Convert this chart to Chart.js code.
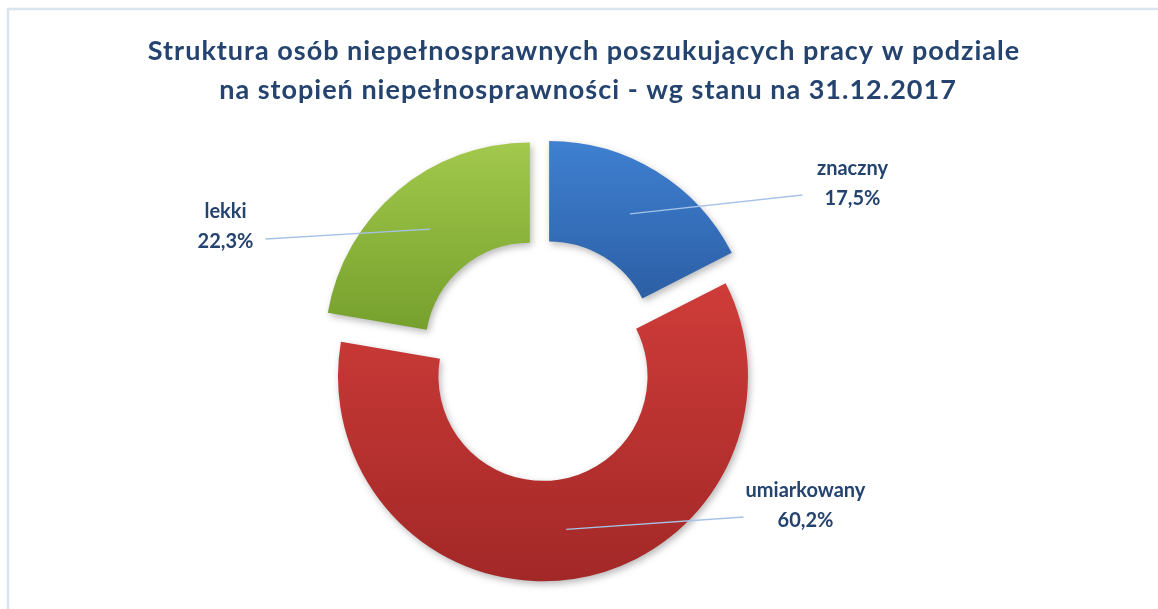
<!DOCTYPE html>
<html>
<head>
<meta charset="utf-8">
<script src="https://cdn.jsdelivr.net/npm/chart.js@4.4.0/dist/chart.umd.min.js"></script>
<style>
  html, body { margin: 0; padding: 0; background: #fff; overflow: hidden; }
  #wrap { width: 1158px; height: 609px; }
  canvas { display: block; }
</style>
</head>
<body>
<div id="wrap"><canvas id="stopien-chart" width="1158" height="609"></canvas></div>
<script>
const categories = ["znaczny", "umiarkowany", "lekki"]
const shares = [17.5, 60.2, 22.3]
const shareLabels = ["17,5%", "60,2%", "22,3%"]
const titleLines = [
    "Struktura osób niepełnosprawnych poszukujących pracy w podziale",
    "na stopień niepełnosprawności - wg stanu na 31.12.2017"
]

// top / bottom colour of every slice
const sliceColors = [["#3f80d1", "#2c5fa5"], ["#cf3c39", "#a22827"], ["#a2c94c", "#76a02d"]]
// label text and end of the leader line, relative to the pie centre
const labelPlace = [
    {tx: 312, ty: -185, lx: 262, ly: -165},
    {tx: 265, ty: 137, lx: 203, ly: 157},
    {tx: -315, ty: -142, lx: -275, ly: -121}
]

const RADIUS = 205
const CUTOUT = 0.51
const EXPLODE = 16.5
const textColor = "#24436f"

function sliceFill(c) {
    const i = c.dataIndex
    const area = c.chart.chartArea
    if (!area || i === undefined) return sliceColors[0][0]
    const cy = (area.top + area.bottom) / 2
    const total = shares.reduce((s, v) => s + v, 0)
    const before = shares.slice(0, i).reduce((s, v) => s + v, 0)
    const a0 = before / total * 2 * Math.PI - Math.PI / 2
    const a1 = a0 + shares[i] / total * 2 * Math.PI
    let top = Infinity, bottom = -Infinity
    for (let k = 0; k <= 60; k++) {
        const a = a0 + (a1 - a0) * k / 60
        for (const r of [RADIUS, RADIUS * CUTOUT]) {
            const y = cy + Math.sin(a) * r
            top = Math.min(top, y)
            bottom = Math.max(bottom, y)
        }
    }
    const g = c.chart.ctx.createLinearGradient(0, top, 0, bottom)
    g.addColorStop(0, sliceColors[i][0])
    g.addColorStop(1, sliceColors[i][1])
    return g
}

// draws every slice pushed out along its middle angle, with a soft shadow
const explodedSlices = {
    id: "explodedSlices",
    beforeDatasetDraw(chart, args) {
        const ctx = chart.ctx
        ctx.save()
        ctx.shadowColor = "rgba(0,0,0,0.28)"
        ctx.shadowBlur = 7
        ctx.shadowOffsetX = 2
        ctx.shadowOffsetY = 3
        args.meta.data.forEach(arc => {
            const mid = (arc.startAngle + arc.endAngle) / 2
            ctx.save()
            ctx.translate(Math.cos(mid) * EXPLODE, Math.sin(mid) * EXPLODE)
            arc.draw(ctx)
            ctx.restore()
        })
        ctx.restore()
        return false
    }
}

// frame, title, labels and leader lines
const decorations = {
    id: "decorations",
    beforeDraw(chart) {
        const ctx = chart.ctx
        ctx.save()
        ctx.fillStyle = "#fff"
        ctx.fillRect(0, 0, chart.width, chart.height)
        ctx.strokeStyle = "#dae4f0"
        ctx.lineWidth = 2.5
        ctx.strokeRect(8, 9, chart.width + 100, chart.height + 100)
        ctx.restore()
    },
    afterDatasetsDraw(chart) {
        const ctx = chart.ctx
        const area = chart.chartArea
        const cx = (area.left + area.right) / 2
        const cy = (area.top + area.bottom) / 2
        ctx.save()
        ctx.fillStyle = textColor
        ctx.textAlign = "center"
        ctx.textBaseline = "alphabetic"
        ctx.font = "bold 27px Lato"
        ctx.letterSpacing = "1px"
        ctx.fillText(titleLines[0], 584, 60)
        ctx.fillText(titleLines[1], 588, 99)

        ctx.letterSpacing = "0px"
        chart.getDatasetMeta(0).data.forEach((arc, i) => {
            const mid = (arc.startAngle + arc.endAngle) / 2
            const r = EXPLODE + (arc.innerRadius + arc.outerRadius) / 2
            const p = labelPlace[i]
            ctx.strokeStyle = "#a5c3e6"
            ctx.lineWidth = 1.3
            ctx.beginPath()
            ctx.moveTo(arc.x + Math.cos(mid) * r, arc.y + Math.sin(mid) * r)
            ctx.lineTo(cx + p.lx, cy + p.ly)
            ctx.stroke()
            ctx.font = "bold 20px Lato"
            ctx.fillText(categories[i], cx + p.tx, cy + p.ty)
            ctx.fillText(shareLabels[i], cx + p.tx, cy + p.ty + 30)
        })
        ctx.restore()
    }
}

new Chart("stopien-chart", {
    type: "doughnut",
    data: {
        labels: categories,
        datasets: [{
            data: shares,
            backgroundColor: sliceFill,
            borderWidth: 0,
            offset: 0
        }]
    },
    options: {
        responsive: false,
        animation: false,
        events: [],
        radius: RADIUS,
        cutout: (CUTOUT * 100) + "%",
        layout: {padding: {left: 0, right: 77, top: 111, bottom: 0}},
        plugins: {
            legend: {display: false},
            tooltip: {enabled: false},
            title: {display: false}
        }
    },
    plugins: [explodedSlices, decorations]
})
</script>
</body>
</html>
